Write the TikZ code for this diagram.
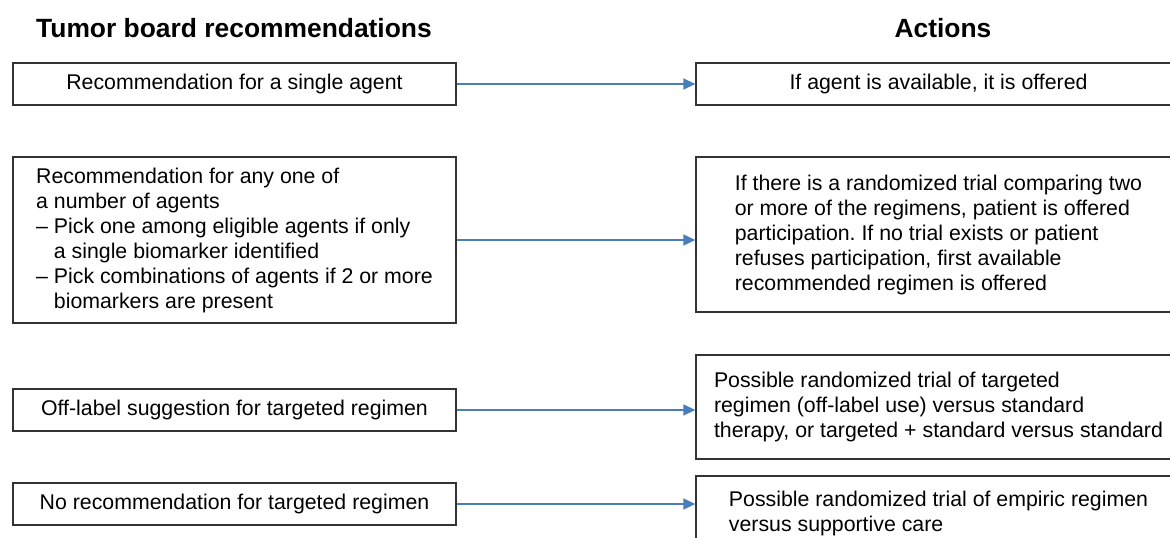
\documentclass[tikz,border=0pt]{standalone}
\usepackage{fontspec}
\setmainfont{Liberation Sans}
\usetikzlibrary{arrows.meta}
\definecolor{linkblue}{HTML}{4A7EBB}
\definecolor{boxline}{HTML}{333333}
\newcommand\tbfont{\fontsize{21.3}{25}\selectfont}
\newcommand\tbhead{\fontsize{26.4}{30}\selectfont\bfseries}
\frenchspacing

\begin{document}
\begin{tikzpicture}[x=1pt,y=-1pt]
	\tikzstyle{every node}+=[inner sep=0pt, font=\tbfont, align=left]
	\tikzstyle{recbox}=[draw=boxline, line width=1.3pt, minimum width=443pt, minimum height=42pt]
	\tikzstyle{actbox}=[draw=boxline, line width=1.3pt, minimum width=485pt, minimum height=42pt]
	\tikzstyle{link}=[linkblue, line width=1.5pt, -{Triangle[length=12pt,width=11pt]}]
	\useasboundingbox (0,0) rectangle (1170,538);
	\node [anchor=base, font=\tbhead] (rechead) at (234,37) {Tumor board recommendations};
	\node [anchor=base, font=\tbhead] (acthead) at (943,37) {Actions};
	\node [recbox] (rec1) at (234.5,84) {Recommendation for a single agent};
	\node [recbox, minimum height=166pt] (rec2) at (234.5,240) {Recommendation for any one of\\a number of agents\\– Pick one among eligible agents if only\\\phantom{– }a single biomarker identified\\– Pick combinations of agents if 2 or more\\\phantom{– }biomarkers are present};
	\node [recbox] (rec3) at (234.5,410) {Off-label suggestion for targeted regimen};
	\node [recbox] (rec4) at (234.5,504) {No recommendation for targeted regimen};
	\node [actbox] (act1) at (938.5,84) {If agent is available, it is offered};
	\node [actbox, minimum height=155pt] (act2) at (938.5,234.5) {If there is a randomized trial comparing two\\or more of the regimens, patient is offered\\participation. If no trial exists or patient\\refuses participation, first available\\recommended regimen is offered};
	\node [actbox, minimum height=104pt] (act3) at (938.5,407) {Possible randomized trial of targeted\\regimen (off-label use) versus standard\\therapy, or targeted + standard versus standard};
	\node [actbox, minimum height=74pt] (act4) at (938.5,513) {Possible randomized trial of empiric regimen\\versus supportive care};
	\draw [link] (rec1.east) -- (act1.west);
	\draw [link] (rec2.east) -- (rec2.east -| act2.west);
	\draw [link] (rec3.east) -- (rec3.east -| act3.west);
	\draw [link] (rec4.east) -- (rec4.east -| act4.west);
\end{tikzpicture}
\end{document}
